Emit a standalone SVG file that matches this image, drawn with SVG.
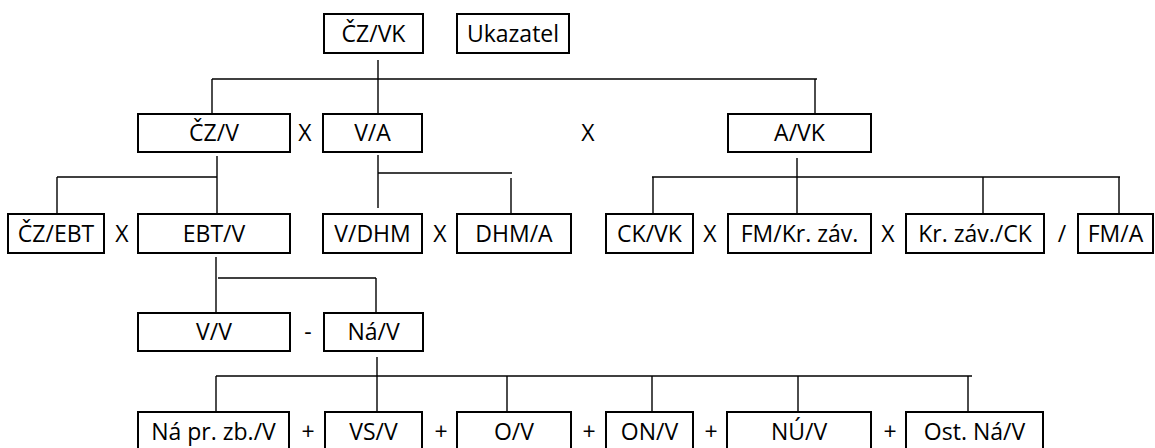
<svg xmlns="http://www.w3.org/2000/svg" width="1155" height="448" viewBox="0 0 1155 448">
<style>
.b{fill:#fff;stroke:#000;stroke-width:2}
.t{font-family:"Open Sans","Liberation Sans",sans-serif;font-size:23px;fill:#000;text-anchor:middle}
.c line{stroke:#000;stroke-width:1.4}
</style>
<rect width="1155" height="448" fill="#fff"/>
<g class="c" id="connectors">
<line x1="378" y1="60" x2="378" y2="114"/>
<line x1="212" y1="79" x2="817" y2="79"/>
<line x1="212" y1="79" x2="212" y2="114"/>
<line x1="815" y1="79" x2="815" y2="114"/>
<line x1="217" y1="156" x2="217" y2="214"/>
<line x1="57" y1="177" x2="217" y2="177"/>
<line x1="57" y1="177" x2="57" y2="214"/>
<line x1="378" y1="155" x2="378" y2="208"/>
<line x1="378" y1="173" x2="512" y2="173"/>
<line x1="511" y1="178" x2="511" y2="214"/>
<line x1="797" y1="158" x2="797" y2="214"/>
<line x1="652" y1="177" x2="1120" y2="177"/>
<line x1="653" y1="177" x2="653" y2="214"/>
<line x1="983" y1="177" x2="983" y2="214"/>
<line x1="1119" y1="177" x2="1119" y2="214"/>
<line x1="216" y1="257" x2="216" y2="313"/>
<line x1="218" y1="278" x2="376" y2="278"/>
<line x1="376" y1="278" x2="376" y2="313"/>
<line x1="377" y1="357" x2="377" y2="412"/>
<line x1="216" y1="376" x2="972" y2="376"/>
<line x1="216" y1="376" x2="216" y2="412"/>
<line x1="507" y1="376" x2="507" y2="412"/>
<line x1="652" y1="376" x2="652" y2="412"/>
<line x1="798" y1="376" x2="798" y2="412"/>
<line x1="968" y1="376" x2="968" y2="412"/>
</g>
<g id="n_czvk"><rect class="b" x="324" y="14" width="99" height="39"/><text class="t" x="373.5" y="42">ČZ/VK</text></g>
<g id="n_ukazatel"><rect class="b" x="457" y="14" width="112" height="39"/><text class="t" x="513" y="42">Ukazatel</text></g>
<g id="n_czv"><rect class="b" x="138" y="114" width="152" height="38"/><text class="t" x="214" y="141">ČZ/V</text></g>
<g id="op1"><text class="t" x="305" y="141">X</text></g>
<g id="n_va"><rect class="b" x="323" y="114" width="99" height="38"/><text class="t" x="372.5" y="141">V/A</text></g>
<g id="op2"><text class="t" x="588" y="141">X</text></g>
<g id="n_avk"><rect class="b" x="728" y="114" width="143" height="38"/><text class="t" x="799.5" y="141">A/VK</text></g>
<g id="n_czebt"><rect class="b" x="8" y="214" width="96" height="39"/><text class="t" x="56" y="242">ČZ/EBT</text></g>
<g id="op3"><text class="t" x="122" y="242">X</text></g>
<g id="n_ebtv"><rect class="b" x="138" y="214" width="152" height="39"/><text class="t" x="214" y="242">EBT/V</text></g>
<g id="n_vdhm"><rect class="b" x="323" y="214" width="99" height="39"/><text class="t" x="372.5" y="242">V/DHM</text></g>
<g id="op4"><text class="t" x="440" y="242">X</text></g>
<g id="n_dhma"><rect class="b" x="457" y="214" width="114" height="39"/><text class="t" x="514" y="242">DHM/A</text></g>
<g id="n_ckvk"><rect class="b" x="606" y="214" width="87" height="39"/><text class="t" x="649.5" y="242">CK/VK</text></g>
<g id="op5"><text class="t" x="710" y="242">X</text></g>
<g id="n_fmkr"><rect class="b" x="728" y="214" width="143" height="39"/><text class="t" x="799.5" y="242">FM/Kr. záv.</text></g>
<g id="op6"><text class="t" x="888" y="242">X</text></g>
<g id="n_krck"><rect class="b" x="906" y="214" width="138" height="39"/><text class="t" x="975" y="242">Kr. záv./CK</text></g>
<g id="op7"><text class="t" x="1062" y="242">/</text></g>
<g id="n_fma"><rect class="b" x="1078" y="214" width="75" height="39"/><text class="t" x="1115.5" y="242">FM/A</text></g>
<g id="n_vv"><rect class="b" x="138" y="313" width="152" height="38"/><text class="t" x="214" y="340">V/V</text></g>
<g id="op8"><text class="t" x="308" y="340">-</text></g>
<g id="n_nav"><rect class="b" x="324" y="313" width="99" height="38"/><text class="t" x="373.5" y="340">Ná/V</text></g>
<g id="n_naprzb"><rect class="b" x="138" y="412" width="151" height="40"/><text class="t" x="213.5" y="440">Ná pr. zb./V</text></g>
<g id="op9"><text class="t" x="308" y="440">+</text></g>
<g id="n_vsv"><rect class="b" x="325" y="412" width="97" height="40"/><text class="t" x="373.5" y="440">VS/V</text></g>
<g id="op10"><text class="t" x="441" y="440">+</text></g>
<g id="n_ov"><rect class="b" x="457" y="412" width="114" height="40"/><text class="t" x="514" y="440">O/V</text></g>
<g id="op11"><text class="t" x="589" y="440">+</text></g>
<g id="n_onv"><rect class="b" x="606" y="412" width="87" height="40"/><text class="t" x="649.5" y="440">ON/V</text></g>
<g id="op12"><text class="t" x="711" y="440">+</text></g>
<g id="n_nuv"><rect class="b" x="727" y="412" width="144" height="40"/><text class="t" x="799" y="440">NÚ/V</text></g>
<g id="op13"><text class="t" x="890" y="440">+</text></g>
<g id="n_ostnav"><rect class="b" x="906" y="412" width="137" height="40"/><text class="t" x="974.5" y="440">Ost. Ná/V</text></g>
</svg>
